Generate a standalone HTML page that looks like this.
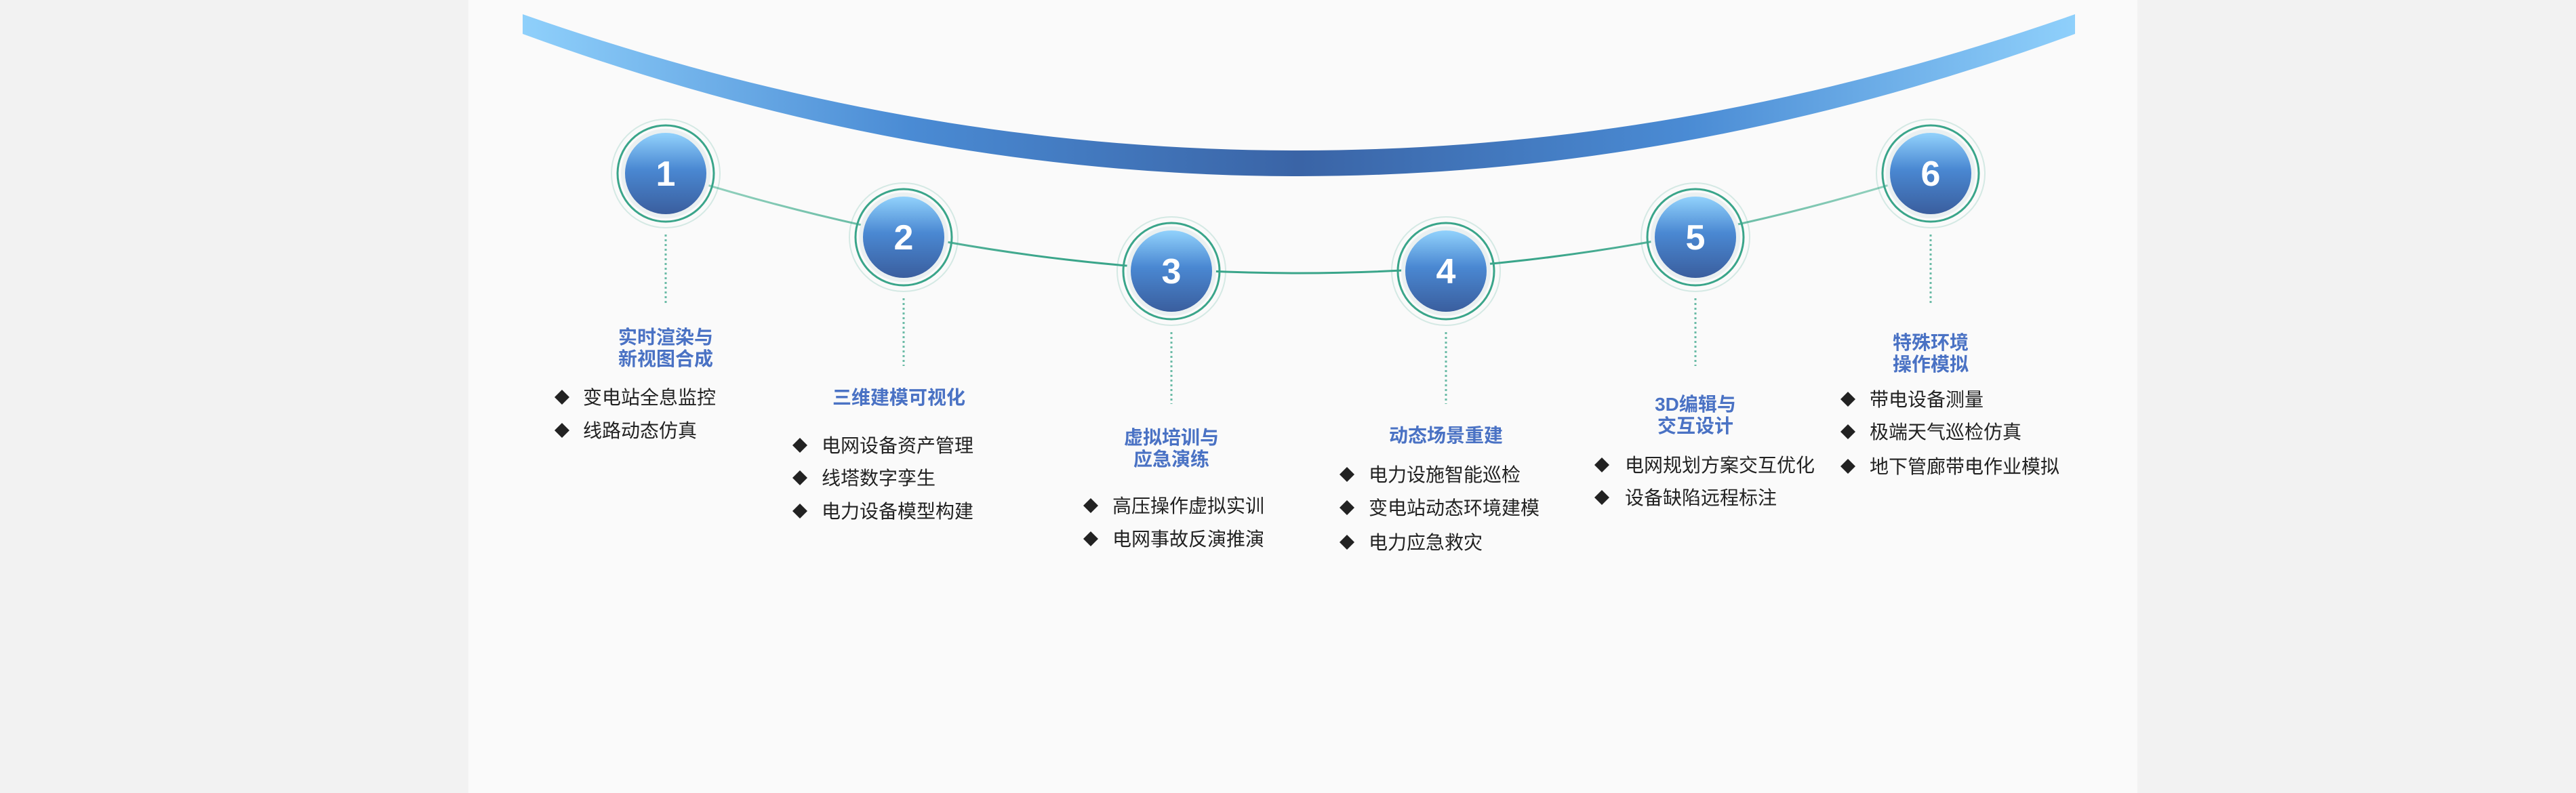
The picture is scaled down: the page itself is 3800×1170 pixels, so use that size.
<!DOCTYPE html>
<html><head><meta charset="utf-8"><style>
html,body{margin:0;padding:0;background:#f2f2f2;}
#c{width:3800px;height:1170px;position:relative;overflow:hidden;background:#f2f2f2;}
svg{position:absolute;left:0;top:0;}
.t{font-family:"Liberation Sans","Noto Sans CJK SC",sans-serif;font-size:28px;font-weight:bold;fill:#4a72c4;}
.b{font-family:"Liberation Sans","Noto Sans CJK SC",sans-serif;font-size:28px;fill:#222;}
.n{font-family:"Liberation Sans",sans-serif;font-size:52px;font-weight:bold;fill:#fff;}
</style></head><body><div id="c">
<svg width="3800" height="1170" viewBox="0 0 3800 1170">
<defs>
<linearGradient id="arc" x1="0" y1="0" x2="1" y2="0">
<stop offset="0" stop-color="#8fd0fb"/><stop offset="0.25" stop-color="#4a8bd4"/><stop offset="0.5" stop-color="#3a64a6"/><stop offset="0.75" stop-color="#4a8bd4"/><stop offset="1" stop-color="#8fd0fb"/>
</linearGradient>
<linearGradient id="ball" x1="0" y1="0" x2="0" y2="1">
<stop offset="0" stop-color="#92d2fc"/><stop offset="0.45" stop-color="#4a88d2"/><stop offset="1" stop-color="#3a5e9e"/>
</linearGradient>
<linearGradient id="ln" x1="0" y1="0" x2="1" y2="0">
<stop offset="0" stop-color="#9ed6c4"/><stop offset="0.3" stop-color="#3aa58a"/><stop offset="0.7" stop-color="#3aa58a"/><stop offset="1" stop-color="#9ed6c4"/>
</linearGradient>
<g id="node">
<circle r="80" fill="none" stroke="#3aa58a" stroke-opacity="0.2" stroke-width="2"/>
<circle r="71" fill="none" stroke="#3aa58a" stroke-width="3"/>
<circle r="66" fill="#eaf0f1"/>
<circle r="60" fill="url(#ball)"/>
</g>
</defs>
<rect x="691" y="0" width="2462" height="1170" fill="#fafafa"/>
<path d="M771,21 Q1916,423 3061,21 L3061,50 Q1916,470 771,50 Z" fill="url(#arc)"/>
<path d="M982,254 Q1915,552 2848,254" fill="none" stroke="url(#ln)" stroke-width="3"/>
<g stroke="#3aa58a" stroke-opacity="0.75" stroke-width="3" stroke-dasharray="3,4">
<line x1="982" y1="346" x2="982" y2="448"/>
<line x1="1333" y1="440" x2="1333" y2="540"/>
<line x1="1728" y1="490" x2="1728" y2="596"/>
<line x1="2133" y1="490" x2="2133" y2="596"/>
<line x1="2501" y1="440" x2="2501" y2="540"/>
<line x1="2848" y1="346" x2="2848" y2="448"/>
</g>
<use href="#node" x="982" y="256"/>
<use href="#node" x="1333" y="350"/>
<use href="#node" x="1728" y="400"/>
<use href="#node" x="2133" y="400"/>
<use href="#node" x="2501" y="350"/>
<use href="#node" x="2848" y="256"/>
<g class="n" text-anchor="middle">
<text x="982" y="274">1</text><text x="1333" y="368">2</text><text x="1728" y="418">3</text>
<text x="2133" y="418">4</text><text x="2501" y="368">5</text><text x="2848" y="274">6</text>
</g>
<g class="t" text-anchor="middle">
<text x="982" y="507">实时渲染与</text><text x="982" y="539">新视图合成</text>
<text x="1326" y="596">三维建模可视化</text>
<text x="1728" y="655">虚拟培训与</text><text x="1728" y="687">应急演练</text>
<text x="2133" y="652">动态场景重建</text>
<text x="2501" y="606">3D编辑与</text><text x="2501" y="638">交互设计</text>
<text x="2848" y="515">特殊环境</text><text x="2848" y="547">操作模拟</text>
</g>
<g class="b">
<text x="860" y="596">变电站全息监控</text><text x="860" y="645">线路动态仿真</text>
<text x="1212" y="667">电网设备资产管理</text><text x="1212" y="715">线塔数字孪生</text><text x="1212" y="764">电力设备模型构建</text>
<text x="1641" y="756">高压操作虚拟实训</text><text x="1641" y="805">电网事故反演推演</text>
<text x="2019" y="710">电力设施智能巡检</text><text x="2019" y="759">变电站动态环境建模</text><text x="2019" y="810">电力应急救灾</text>
<text x="2397" y="696">电网规划方案交互优化</text><text x="2397" y="744">设备缺陷远程标注</text>
<text x="2758" y="599">带电设备测量</text><text x="2758" y="647">极端天气巡检仿真</text><text x="2758" y="698">地下管廊带电作业模拟</text>
</g>
<g fill="#222">
<path d="M829,575 l11,11 l-11,11 l-11,-11z"/><path d="M829,624 l11,11 l-11,11 l-11,-11z"/>
<path d="M1180,646 l11,11 l-11,11 l-11,-11z"/><path d="M1180,694 l11,11 l-11,11 l-11,-11z"/><path d="M1180,743 l11,11 l-11,11 l-11,-11z"/>
<path d="M1609,735 l11,11 l-11,11 l-11,-11z"/><path d="M1609,784 l11,11 l-11,11 l-11,-11z"/>
<path d="M1987,689 l11,11 l-11,11 l-11,-11z"/><path d="M1987,738 l11,11 l-11,11 l-11,-11z"/><path d="M1987,789 l11,11 l-11,11 l-11,-11z"/>
<path d="M2363,675 l11,11 l-11,11 l-11,-11z"/><path d="M2363,723 l11,11 l-11,11 l-11,-11z"/>
<path d="M2726,578 l11,11 l-11,11 l-11,-11z"/><path d="M2726,626 l11,11 l-11,11 l-11,-11z"/><path d="M2726,677 l11,11 l-11,11 l-11,-11z"/>
</g>
</svg>
</div></body></html>
